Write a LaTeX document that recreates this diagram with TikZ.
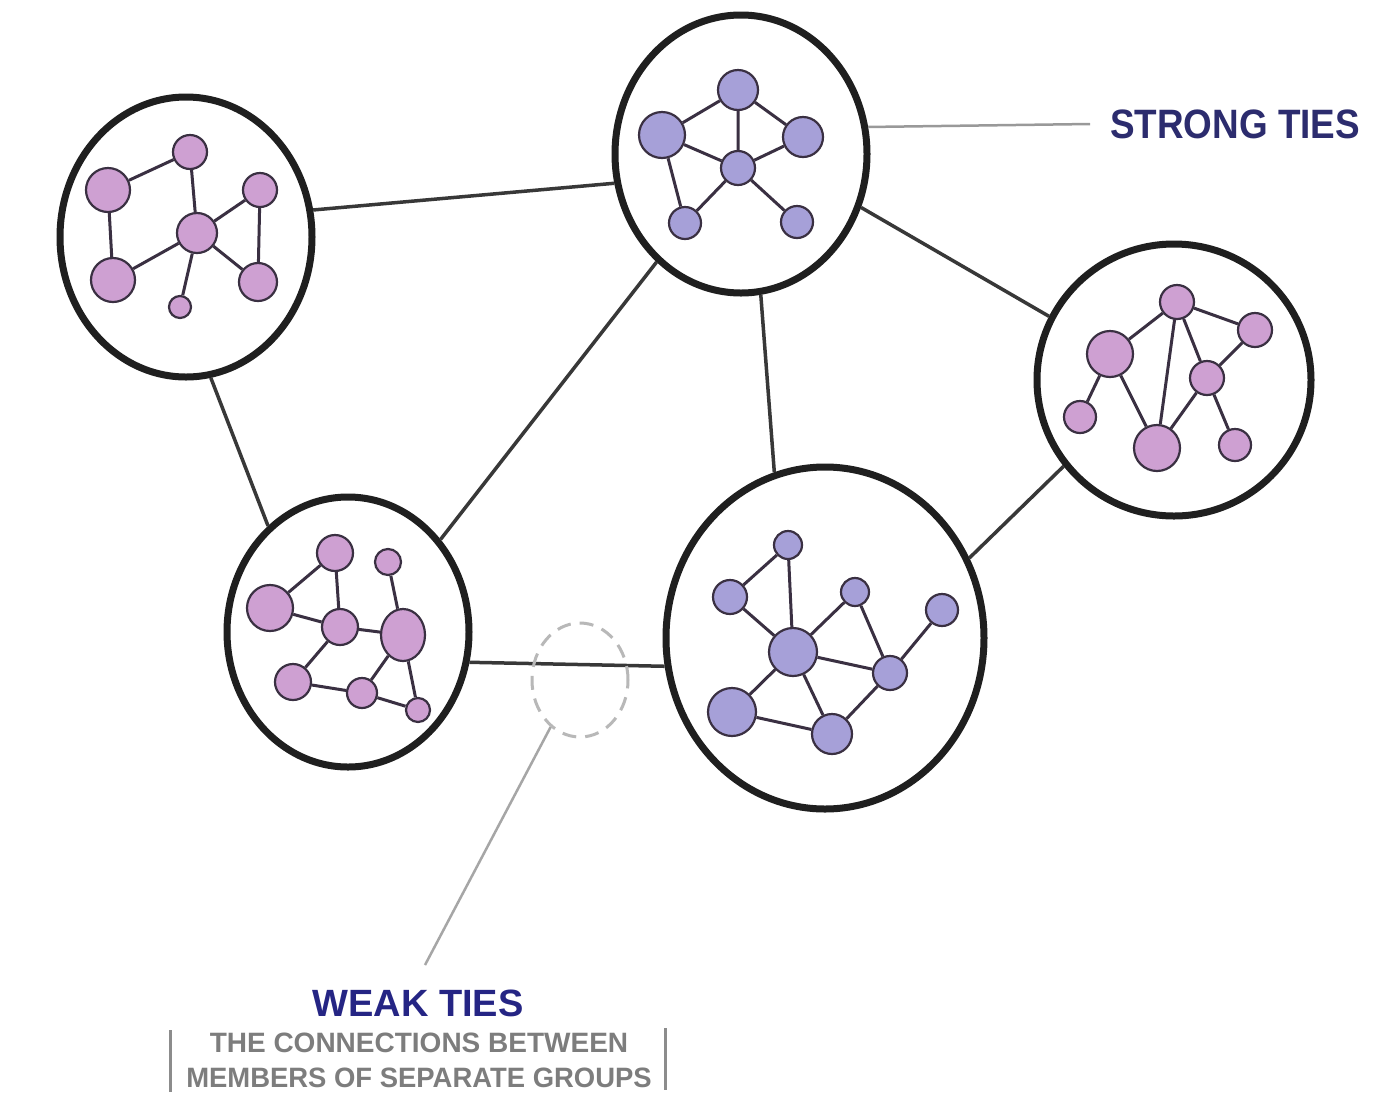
\documentclass[tikz,border=0pt]{standalone}
\usepackage{fontspec}
\usepackage{graphicx}
\setmainfont{Liberation Sans}
\usetikzlibrary{shapes.geometric}
\definecolor{inkc}{RGB}{58,48,66}
\definecolor{pinkc}{RGB}{206,160,210}
\definecolor{purpc}{RGB}{166,160,216}
\definecolor{navyc}{RGB}{44,44,110}
\definecolor{greyc}{RGB}{125,125,125}
\begin{document}
\begin{tikzpicture}[x=1pt,y=-1pt,
  group/.style={ellipse, draw=black!88, line width=7pt, fill=white, inner sep=0pt},
  pk/.style={circle, draw=inkc, line width=2.2pt, fill=pinkc, inner sep=0pt, minimum size=#1},
  pu/.style={circle, draw=inkc, line width=2.2pt, fill=purpc, inner sep=0pt, minimum size=#1},
  tie/.style={draw=inkc, line width=3pt},
  weak/.style={draw=black!78, line width=3.5pt},
  lead/.style={draw=black!40, line width=2.5pt},
  headtxt/.style={font=\bfseries\fontsize{38}{40}\selectfont, text=navyc, inner sep=0pt},
  subtxt/.style={font=\bfseries\fontsize{28}{34}\selectfont, text=greyc, inner sep=0pt, align=center}
]
\fill[white] (0,0) rectangle (1398,1096);
\useasboundingbox (0,0) rectangle (1398,1096);

% groups
\node[group, minimum width=252pt, minimum height=280pt] (A) at (186,237) {};
\node[group, minimum width=252pt, minimum height=278pt] (B) at (741,154) {};
\node[group, minimum width=274pt, minimum height=272pt] (C) at (1174,380) {};
\node[group, minimum width=242pt, minimum height=270pt] (D) at (348,632) {};
\node[group, minimum width=318pt, minimum height=342pt] (E) at (825,638) {};

% weak ties
\draw[weak] (A.12) -- (B.193);
\draw[weak] (A.280) -- (D.127);
\draw[weak] (B.232) -- (D.45);
\draw[weak] (B.278) -- (E.107);
\draw[weak] (B.336) -- (C.153);
\draw[weak] (C.218) -- (E.29);
\draw[weak] (D.346) -- (E.190);

% cluster A
\node[pk=34pt] (a1) at (190,152) {};
\node[pk=44pt] (a2) at (108,190) {};
\node[pk=34pt] (a3) at (260,190) {};
\node[pk=40pt] (a4) at (197,233) {};
\node[pk=44pt] (a5) at (113,280) {};
\node[pk=38pt] (a6) at (258,282) {};
\node[pk=22pt] (a7) at (180,307) {};
\draw[tie] (a2)--(a1) (a1)--(a4) (a2)--(a5) (a5)--(a4) (a4)--(a3) (a3)--(a6) (a4)--(a6) (a4)--(a7);

% cluster B
\node[pu=40pt] (b1) at (738,90) {};
\node[pu=46pt] (b2) at (662,135) {};
\node[pu=40pt] (b3) at (803,137) {};
\node[pu=34pt] (b4) at (738,168) {};
\node[pu=32pt] (b5) at (685,223) {};
\node[pu=32pt] (b6) at (797,222) {};
\draw[tie] (b2)--(b1) (b1)--(b3) (b1)--(b4) (b2)--(b4) (b4)--(b3) (b2)--(b5) (b4)--(b5) (b4)--(b6);

% cluster C
\node[pk=34pt] (c1) at (1177,302) {};
\node[pk=34pt] (c2) at (1255,330) {};
\node[pk=46pt] (c3) at (1110,354) {};
\node[pk=34pt] (c4) at (1207,378) {};
\node[pk=32pt] (c5) at (1080,417) {};
\node[pk=46pt] (c6) at (1157,448) {};
\node[pk=32pt] (c7) at (1235,445) {};
\draw[tie] (c3)--(c1) (c1)--(c2) (c1)--(c4) (c2)--(c4) (c1)--(c6) (c3)--(c5) (c3)--(c6) (c4)--(c6) (c4)--(c7);

% cluster D
\node[pk=36pt] (d1) at (335,553) {};
\node[pk=26pt] (d2) at (388,562) {};
\node[pk=46pt] (d3) at (270,608) {};
\node[pk=36pt] (d4) at (340,627) {};
\node[ellipse, draw=inkc, line width=2.2pt, fill=pinkc, inner sep=0pt, minimum width=44pt, minimum height=52pt] (d5) at (403,635) {};
\node[pk=36pt] (d6) at (293,682) {};
\node[pk=30pt] (d7) at (362,693) {};
\node[pk=24pt] (d8) at (418,710) {};
\draw[tie] (d3)--(d1) (d1)--(d4) (d3)--(d4) (d4)--(d5) (d2)--(d5) (d4)--(d6) (d6)--(d7) (d7)--(d5) (d7)--(d8) (d5)--(d8);

% cluster E
\node[pu=28pt] (e1) at (788,545) {};
\node[pu=34pt] (e2) at (730,597) {};
\node[pu=28pt] (e3) at (855,592) {};
\node[pu=32pt] (e4) at (942,610) {};
\node[pu=48pt] (e5) at (793,652) {};
\node[pu=34pt] (e6) at (890,673) {};
\node[pu=48pt] (e7) at (732,712) {};
\node[pu=40pt] (e8) at (832,734) {};
\draw[tie] (e2)--(e1) (e1)--(e5) (e2)--(e5) (e5)--(e3) (e3)--(e6) (e4)--(e6) (e5)--(e6) (e5)--(e7) (e5)--(e8) (e7)--(e8) (e8)--(e6);

% strong ties label
\node[headtxt, anchor=west] (st) at (1110,124) {\scalebox{0.97}[1.08]{STRONG TIES}};
\draw[lead] (B.12) -- ([xshift=-20pt]st.west);

% weak ties marker
\node[ellipse, draw=black!28, dashed, dash pattern=on 14pt off 9pt, line width=3pt, minimum width=96pt, minimum height=114pt] (W) at (580,680) {};
\coordinate (wl) at (425,965);
\draw[lead, draw=black!35] (W.238) -- (wl);

\node[headtxt, text=navyc!85!blue] (wt) at (418,1003) {WEAK TIES};
\node[subtxt] (s1) at (419,1043) {\scalebox{1.0}[1]{THE CONNECTIONS BETWEEN}};
\node[subtxt] (s2) at (419,1078) {\scalebox{0.98}[1]{MEMBERS OF SEPARATE GROUPS}};
\coordinate (bl1) at (170,1030);
\coordinate (bl2) at (170,1092);
\coordinate (br1) at (665,1028);
\coordinate (br2) at (665,1090);
\draw[draw=black!45, line width=3pt] (bl1) -- (bl2);
\draw[draw=black!45, line width=3pt] (br1) -- (br2);
\end{tikzpicture}
\end{document}
